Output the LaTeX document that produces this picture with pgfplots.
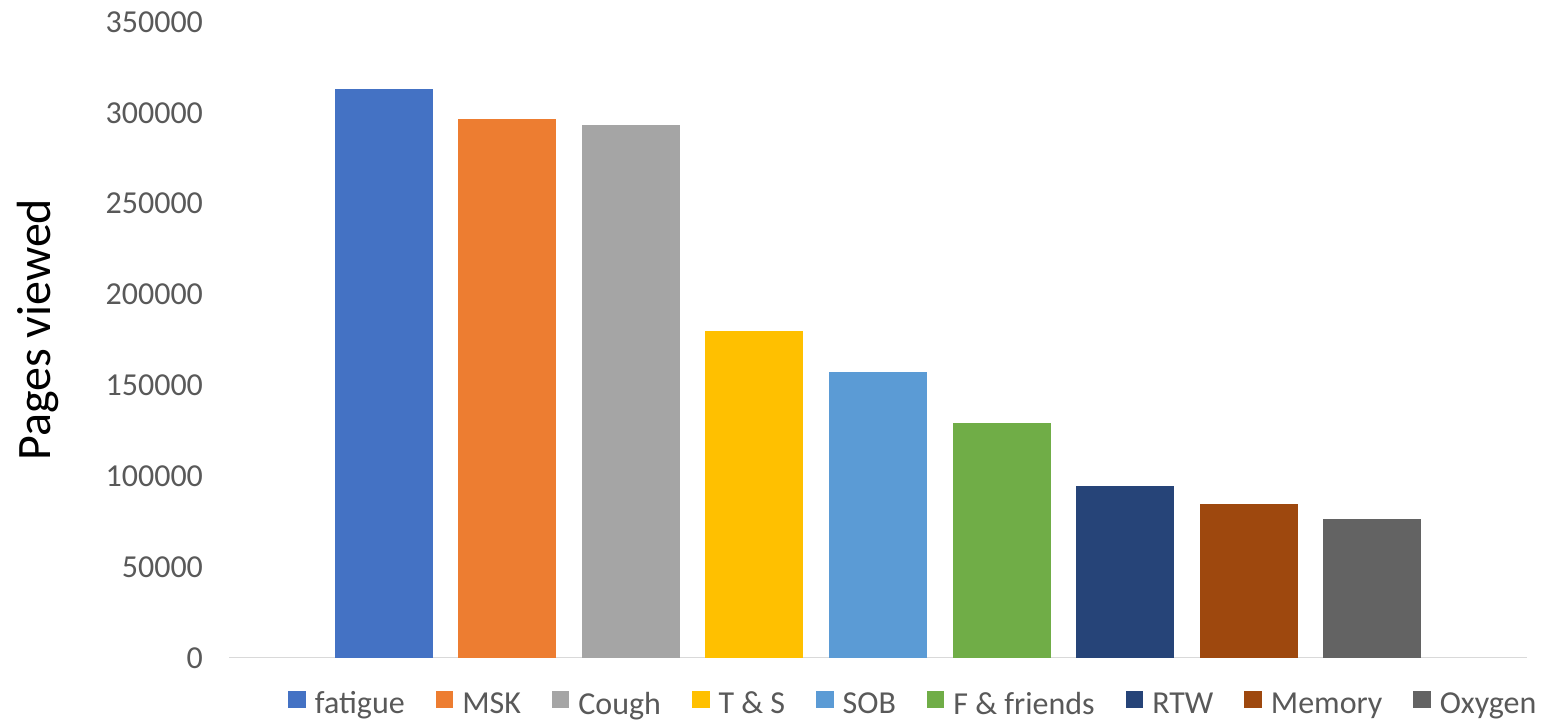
\documentclass[border=0pt]{standalone}
\usepackage{fontspec}
\setmainfont{Carlito}
\usepackage{pgfplots}
\pgfplotsset{compat=1.18}

\definecolor{c1}{HTML}{4472C4}
\definecolor{c2}{HTML}{ED7D31}
\definecolor{c3}{HTML}{A5A5A5}
\definecolor{c4}{HTML}{FFC000}
\definecolor{c5}{HTML}{5B9BD5}
\definecolor{c6}{HTML}{70AD47}
\definecolor{c7}{HTML}{264478}
\definecolor{c8}{HTML}{9E480E}
\definecolor{c9}{HTML}{636363}
\definecolor{ticktext}{HTML}{595959}
\definecolor{basegray}{HTML}{D9D9D9}

\begin{document}
\begin{tikzpicture}
\path[use as bounding box] (0,0) rectangle (780pt,360.5pt);
\begin{axis}[
  at={(114.5pt,31.5pt)}, anchor=south west,
  scale only axis,
  width=649pt, height=318pt,
  xmin=-1.25, xmax=9.25,
  ymin=0, ymax=350000,
  ytick={0,50000,...,350000},
  xtick=\empty,
  scaled y ticks=false,
  axis line style={draw=none},
  major tick length=0pt,
  /pgf/number format/.cd, fixed, 1000 sep={}, assume math mode=true,
  /pgfplots/.cd,
  yticklabel style={font=\fontsize{16}{19}\selectfont, text=ticktext, xshift=-9.5pt},
  ylabel={Pages viewed},
  every axis y label/.style={at={(axis description cs:-0.147,0.516)}, rotate=90, anchor=center,
    font=\fontsize{24}{28}\selectfont, text=black},
  legend columns=-1,
  legend style={
    draw=none, fill=none, inner sep=0pt,
    at={(axis description cs:0.0455,-0.0723)}, anchor=west,
    font=\fontsize{16}{19}\selectfont, text=ticktext,
    nodes={inner sep=0pt},
    /tikz/every odd column/.append style={column sep=4.5pt},
    /tikz/every even column/.append style={column sep=15.5pt},
  },
  legend image code/.code={\fill[#1] (0pt,-2pt) rectangle (8.75pt,6.75pt);},
  every axis plot/.append style={ybar, bar width=49pt, bar shift=0pt, draw=none},
]
\draw[basegray, line width=1pt] (axis cs:-1.25,0) -- (axis cs:9.25,0);
\addplot[fill=c1] coordinates {(0,313000)};  \addlegendentry{fatigue}
\addplot[fill=c2] coordinates {(1,296500)};  \addlegendentry{MSK}
\addplot[fill=c3] coordinates {(2,293500)};  \addlegendentry{Cough}
\addplot[fill=c4] coordinates {(3,180000)};  \addlegendentry{T \& S}
\addplot[fill=c5] coordinates {(4,157500)};  \addlegendentry{SOB}
\addplot[fill=c6] coordinates {(5,129500)};  \addlegendentry{F \& friends}
\addplot[fill=c7] coordinates {(6,94500)};   \addlegendentry{RTW}
\addplot[fill=c8] coordinates {(7,85000)};   \addlegendentry{Memory}
\addplot[fill=c9] coordinates {(8,76500)};   \addlegendentry{Oxygen}
\end{axis}
\end{tikzpicture}
\end{document}
